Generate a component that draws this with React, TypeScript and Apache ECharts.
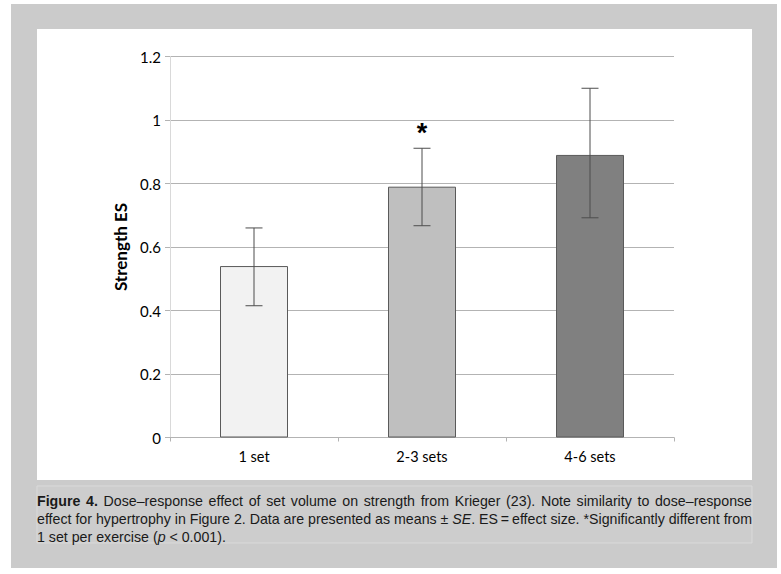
import React, { useEffect, useRef } from "react";
import * as echarts from "echarts";

const categories = ["1 set", "2-3 sets", "4-6 sets"];
const means = [0.54, 0.79, 0.89];
const errLow = [0.415, 0.667, 0.692];
const errHigh = [0.66, 0.911, 1.1];
const annotations = ["", "*", ""];
const barColors = ["#f2f2f2", "#bfbfbf", "#808080"];
const yTicks = { min: 0, max: 1.2, interval: 0.2 };
const captionLines = [
  [
    { t: "Figure 4.", s: "b" },
    { t: " Dose\u2013response effect of set volume on strength from Krieger (23). Note similarity to dose\u2013response", s: "n" },
  ],
  [
    { t: "effect for hypertrophy in Figure 2. Data are presented as means \u00b1 ", s: "n" },
    { t: "SE", s: "i" },
    { t: ". ES\u2009=\u2009effect size. *Significantly different from", s: "n" },
  ],
  [
    { t: "1 set per exercise (", s: "n" },
    { t: "p", s: "i" },
    { t: " < 0.001).", s: "n" },
  ],
];

type Run = { t: string; s: string };

function splitWords(line: Run[]): Run[][] {
  const words: Run[][] = [];
  let cur: Run[] = [];
  for (const part of line) {
    const pieces = part.t.split(" ");
    pieces.forEach((p, idx) => {
      if (idx > 0) {
        if (cur.length) words.push(cur);
        cur = [];
      }
      if (p) cur.push({ t: p, s: part.s });
    });
  }
  if (cur.length) words.push(cur);
  return words;
}

export default function App() {
  const ref = useRef<HTMLDivElement>(null);
  useEffect(() => {
    document.body.style.margin = "0";
    const chart = echarts.init(ref.current!, null, { renderer: "svg" });
    const font = "Lato, 'Open Sans', sans-serif";
    const capFamily = "'Liberation Sans', Arial, sans-serif";
    const fs = 14.2;
    const cssFont = (s: string) =>
      `${s === "i" ? "italic " : ""}${s === "b" ? "bold " : ""}${fs}px ${capFamily}`;
    const ctx = document.createElement("canvas").getContext("2d")!;
    const measure = (t: string, s: string) => {
      ctx.font = cssFont(s);
      return ctx.measureText(t).width;
    };
    const capLeft = 37;
    const capWidth = 715;
    const caption: any[] = [];
    captionLines.forEach((line, li) => {
      const words = splitWords(line as Run[]);
      const widths = words.map((w) => w.reduce((a, r) => a + measure(r.t, r.s), 0));
      const total = widths.reduce((a, b) => a + b, 0);
      const last = li === captionLines.length - 1;
      const gap = last ? measure(" ", "n") : (capWidth - total) / (words.length - 1);
      let x = capLeft;
      const midY = 500.5 + li * 18;
      words.forEach((w, wi) => {
        let rx = x;
        w.forEach((r) => {
          caption.push({
            type: "text",
            x: rx,
            y: midY,
            silent: true,
            style: {
              text: r.t,
              fill: "#1a1a1a",
              fontSize: fs,
              fontFamily: capFamily,
              fontWeight: r.s === "b" ? "bold" : "normal",
              fontStyle: r.s === "i" ? "italic" : "normal",
              align: "left",
              verticalAlign: "middle",
            },
          });
          rx += measure(r.t, r.s);
        });
        x += widths[wi] + gap;
      });
    });
    chart.setOption({
      animation: false,
      backgroundColor: "#ffffff",
      graphic: [
        { type: "rect", shape: { x: 11, y: 4, width: 766, height: 564 }, style: { fill: "#cbcbcb" }, z: -10 },
        { type: "rect", shape: { x: 37, y: 29, width: 715, height: 451 }, style: { fill: "#ffffff" }, z: -9 },
        {
          type: "rect",
          shape: { x: 37, y: 486, width: 715, height: 57 },
          style: { fill: "#cdcdcd", stroke: "#dadada", lineWidth: 1 },
          z: -9,
        },
        ...caption,
      ],
      grid: { left: 170, right: 107, top: 56.5, bottom: 136.5 },
      xAxis: {
        type: "category",
        data: categories,
        axisLine: { show: true, lineStyle: { color: "#b3b3b3", width: 1 } },
        axisTick: { show: true, length: 4, lineStyle: { color: "#b3b3b3" } },
        axisLabel: { color: "#000000", fontSize: 14.5, fontFamily: font, margin: 11 },
      },
      yAxis: {
        type: "value",
        min: yTicks.min,
        max: yTicks.max,
        interval: yTicks.interval,
        name: "Strength ES",
        nameLocation: "middle",
        nameGap: 40,
        nameTextStyle: { color: "#000000", fontSize: 17, fontWeight: "bold", fontFamily: font },
        axisLine: { show: true, lineStyle: { color: "#d9d9d9", width: 1 } },
        axisTick: { show: true, length: 5, lineStyle: { color: "#b3b3b3" } },
        axisLabel: { color: "#000000", fontSize: 15, fontFamily: font, margin: 9 },
        splitLine: { show: true, lineStyle: { color: "#b3b3b3", width: 1 } },
      },
      series: [
        {
          type: "bar",
          barWidth: 68,
          data: means.map((v, i) => ({
            value: v,
            itemStyle: { color: barColors[i], borderColor: "#5a5a5a", borderWidth: 1 },
          })),
        },
        {
          type: "custom",
          z: 5,
          data: categories.map((_, i) => [i, errLow[i], errHigh[i]]),
          renderItem: (params: any, api: any) => {
            const i = params.dataIndex;
            const x = api.value(0);
            const hi = api.coord([x, api.value(2)]);
            const lo = api.coord([x, api.value(1)]);
            const half = 8.5;
            const ls = { stroke: "#4d4d4d", lineWidth: 1 };
            const children: any[] = [
              { type: "line", shape: { x1: hi[0], y1: hi[1], x2: lo[0], y2: lo[1] }, style: ls },
              { type: "line", shape: { x1: hi[0] - half, y1: hi[1], x2: hi[0] + half, y2: hi[1] }, style: ls },
              { type: "line", shape: { x1: lo[0] - half, y1: lo[1], x2: lo[0] + half, y2: lo[1] }, style: ls },
            ];
            if (annotations[i]) {
              children.push({
                type: "text",
                style: {
                  text: annotations[i],
                  x: hi[0],
                  y: hi[1] - 2,
                  align: "center",
                  verticalAlign: "bottom",
                  fontSize: 27,
                  fontWeight: "bold",
                  fontFamily: "'Liberation Sans', Arial, sans-serif",
                  fill: "#000000",
                },
              });
            }
            return { type: "group", children };
          },
        },
      ],
    });
    return () => chart.dispose();
  }, []);
  return <div ref={ref} style={{ width: 781, height: 574 }} />;
}
